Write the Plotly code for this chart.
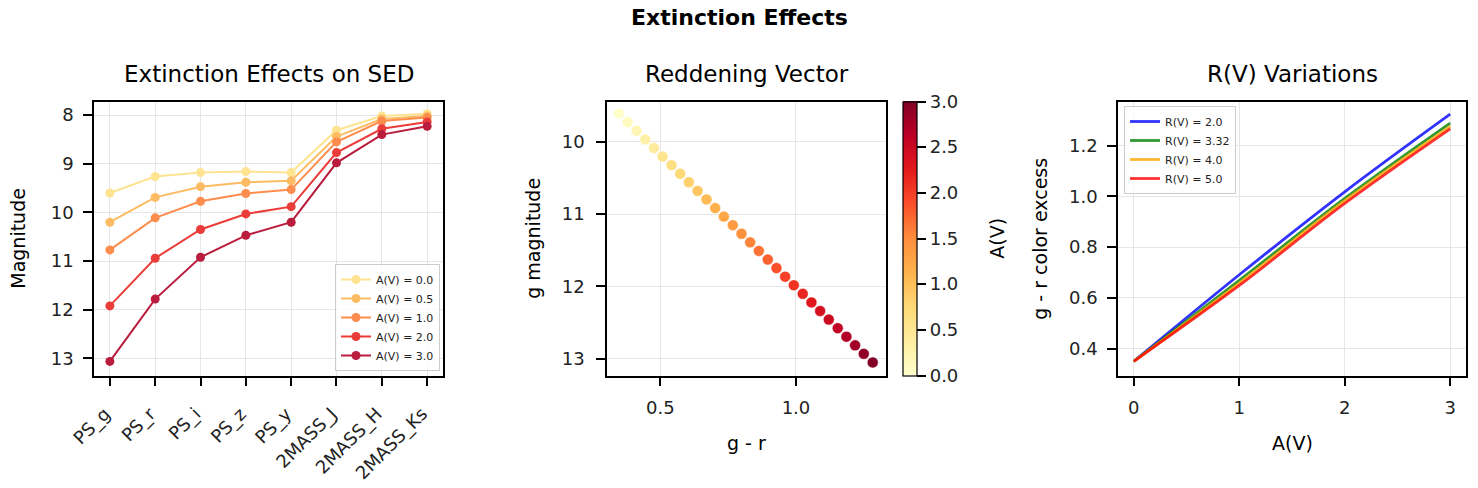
import plotly.graph_objects as go

# ---------------- data ----------------
filters = ["PS_g", "PS_r", "PS_i", "PS_z", "PS_y", "2MASS_J", "2MASS_H", "2MASS_Ks"]
av_labels = ["A(V) = 0.0", "A(V) = 0.5", "A(V) = 1.0", "A(V) = 2.0", "A(V) = 3.0"]
mag_av00 = [9.60, 9.26, 9.18, 9.16, 9.18, 8.31, 8.02, 7.97]
mag_av05 = [10.20, 9.69, 9.47, 9.38, 9.35, 8.44, 8.08, 8.02]
mag_av10 = [10.77, 10.11, 9.77, 9.61, 9.53, 8.55, 8.12, 8.05]
mag_av20 = [11.92, 10.94, 10.35, 10.03, 9.88, 8.77, 8.28, 8.14]
mag_av30 = [13.06, 11.78, 10.92, 10.47, 10.20, 8.98, 8.40, 8.23]
sed_colors = ["rgb(254,227,145)", "rgb(253,187,99)", "rgb(252,141,78)", "rgb(234,60,56)", "rgb(186,28,62)"]

vec_av = [0.000, 0.103, 0.207, 0.310, 0.414, 0.517, 0.621, 0.724, 0.828, 0.931,
          1.034, 1.138, 1.241, 1.345, 1.448, 1.552, 1.655, 1.759, 1.862, 1.966,
          2.069, 2.172, 2.276, 2.379, 2.483, 2.586, 2.690, 2.793, 2.897, 3.000]
vec_gr = [0.347, 0.379, 0.412, 0.444, 0.476, 0.508, 0.541, 0.573, 0.605, 0.637,
          0.670, 0.702, 0.734, 0.767, 0.799, 0.831, 0.863, 0.896, 0.928, 0.960,
          0.992, 1.025, 1.057, 1.089, 1.121, 1.154, 1.186, 1.218, 1.250, 1.283]
vec_g = [9.613, 9.732, 9.850, 9.969, 10.087, 10.206, 10.324, 10.443, 10.561, 10.680,
         10.798, 10.917, 11.035, 11.154, 11.272, 11.391, 11.509, 11.628, 11.746, 11.865,
         11.983, 12.102, 12.220, 12.339, 12.457, 12.576, 12.694, 12.813, 12.931, 13.050]
ylorrd = ["#ffffcc", "#ffeda0", "#fed976", "#feb24c", "#fd8d3c",
          "#fc4e2a", "#e31a1c", "#bd0026", "#800026"]

rv_av = [0, 1, 2, 3]
rv_labels = ["R(V) = 2.0", "R(V) = 3.32", "R(V) = 4.0", "R(V) = 5.0"]
ex_rv20 = [0.350, 0.691, 1.018, 1.324]
ex_rv332 = [0.350, 0.669, 0.992, 1.289]
ex_rv40 = [0.350, 0.658, 0.983, 1.276]
ex_rv50 = [0.350, 0.649, 0.972, 1.266]
rv_colors = ["rgba(0,0,255,0.8)", "rgba(0,128,0,0.8)", "rgba(255,165,0,0.8)", "rgba(255,0,0,0.8)"]

# ---------------- layout geometry ----------------
W, H = 1478, 488
def px(x):
    return x / W
def py(y):
    return 1 - y / H

FONT = "DejaVu Sans"
TICKF = 18
y0, y1 = py(375.5), py(102)
dom_l = [px(94), px(443)]
dom_m = [px(607), px(886)]
dom_r = [px(1118), px(1466)]

fig = go.Figure()

# left panel
for vals, name, col in zip([mag_av00, mag_av05, mag_av10, mag_av20, mag_av30], av_labels, sed_colors):
    fig.add_trace(go.Scatter(
        x=filters, y=vals, mode="lines+markers", name=name,
        line=dict(color=col, width=2), marker=dict(color=col, size=9),
        xaxis="x", yaxis="y", legend="legend"))

# middle panel
fig.add_trace(go.Scatter(
    x=vec_gr, y=vec_g, mode="markers", showlegend=False,
    marker=dict(color=vec_av, size=11, cmin=0, cmax=3,
                colorscale=[[i / 8, c] for i, c in enumerate(ylorrd)],
                line=dict(color="white", width=0.5),
                colorbar=dict(x=px(903), xanchor="left", xpad=0, thickness=14,
                              len=(375.5 - 102) / H, lenmode="fraction", y=y0, yanchor="bottom", ypad=0,
                              outlinecolor="black", outlinewidth=1.2,
                              tickvals=[0, 0.5, 1, 1.5, 2, 2.5, 3],
                              ticktext=["0.0", "0.5", "1.0", "1.5", "2.0", "2.5", "3.0"],
                              ticks="outside", ticklen=9, tickwidth=2, tickcolor="black",
                              tickfont=dict(family=FONT, size=TICKF, color="#222"))),
    xaxis="x2", yaxis="y2"))

# right panel
for vals, name, col in zip([ex_rv20, ex_rv332, ex_rv40, ex_rv50], rv_labels, rv_colors):
    fig.add_trace(go.Scatter(
        x=rv_av, y=vals, mode="lines", name=name,
        line=dict(color=col, width=2.8, shape="spline", smoothing=1),
        xaxis="x3", yaxis="y3", legend="legend2"))

axis_common = dict(showline=True, linecolor="black", linewidth=1.5, mirror=True,
                   ticks="outside", ticklen=9, tickwidth=2, tickcolor="black",
                   showgrid=True, gridcolor="#e6e6e6", gridwidth=1, zeroline=False,
                   automargin=False,
                   tickfont=dict(family=FONT, size=TICKF, color="#222"))

fig.update_layout(
    width=W, height=H, margin=dict(l=0, r=0, t=0, b=0, autoexpand=False),
    paper_bgcolor="white", plot_bgcolor="white",
    font=dict(family=FONT, color="black"),
    xaxis=dict(domain=dom_l, anchor="y", type="category", range=[-0.35, 7.35], tickangle=-45,
               ticklabelstandoff=10, ticklabelshift=-5, **axis_common),
    yaxis=dict(domain=[y0, y1], anchor="x", range=[13.35, 7.73], tickvals=[8, 9, 10, 11, 12, 13],
               ticklabelstandoff=6, **axis_common),
    xaxis2=dict(domain=dom_m, anchor="y2", range=[0.303, 1.332], tickvals=[0.5, 1.0], ticktext=["0.5", "1.0"],
                ticklabelstandoff=6, **axis_common),
    yaxis2=dict(domain=[y0, y1], anchor="x2", range=[13.23, 9.452], tickvals=[10, 11, 12, 13],
                ticklabelstandoff=8, **axis_common),
    xaxis3=dict(domain=dom_r, anchor="y3", range=[-0.15, 3.15], tickvals=[0, 1, 2, 3],
                ticklabelstandoff=6, **axis_common),
    yaxis3=dict(domain=[y0, y1], anchor="x3", range=[0.294, 1.372], tickvals=[0.4, 0.6, 0.8, 1.0, 1.2],
                ticktext=["0.4", "0.6", "0.8", "1.0", "1.2"], ticklabelstandoff=6, **axis_common),
    legend=dict(x=px(440), xanchor="right", y=py(371), yanchor="bottom",
                bgcolor="rgba(255,255,255,0.8)", bordercolor="#cccccc", borderwidth=1,
                font=dict(family=FONT, size=11, color="#222"), tracegroupgap=0, itemwidth=30),
    legend2=dict(x=px(1124), xanchor="left", y=py(106), yanchor="top",
                 bgcolor="rgba(255,255,255,0.8)", bordercolor="#cccccc", borderwidth=1,
                 font=dict(family=FONT, size=11, color="#222"), tracegroupgap=0, itemwidth=30),
)

def ann(text, x, y, size, angle=0, bold=False):
    fig.add_annotation(text=f"<b>{text}</b>" if bold else text, x=x, y=y, xref="paper", yref="paper",
                       xanchor="center", yanchor="middle", showarrow=False, textangle=angle,
                       font=dict(family=FONT, size=size, color="black"))

ann("Extinction Effects", 0.5, py(18), 22, bold=True)
ann("Extinction Effects on SED", px(268.5), py(74), 23)
ann("Reddening Vector", px(746.5), py(74), 23)
ann("R(V) Variations", px(1292), py(74), 23)
ann("Magnitude", px(18), py(238.75), 19, angle=-90)
ann("g magnitude", px(533), py(238.75), 19, angle=-90)
ann("g - r color excess", px(1040), py(238.75), 19, angle=-90)
ann("A(V)", px(997), py(238.75), 19, angle=-90)
ann("g - r", px(746.5), py(443), 19)
ann("A(V)", px(1292), py(443), 19)

fig.write_html("out.html")
